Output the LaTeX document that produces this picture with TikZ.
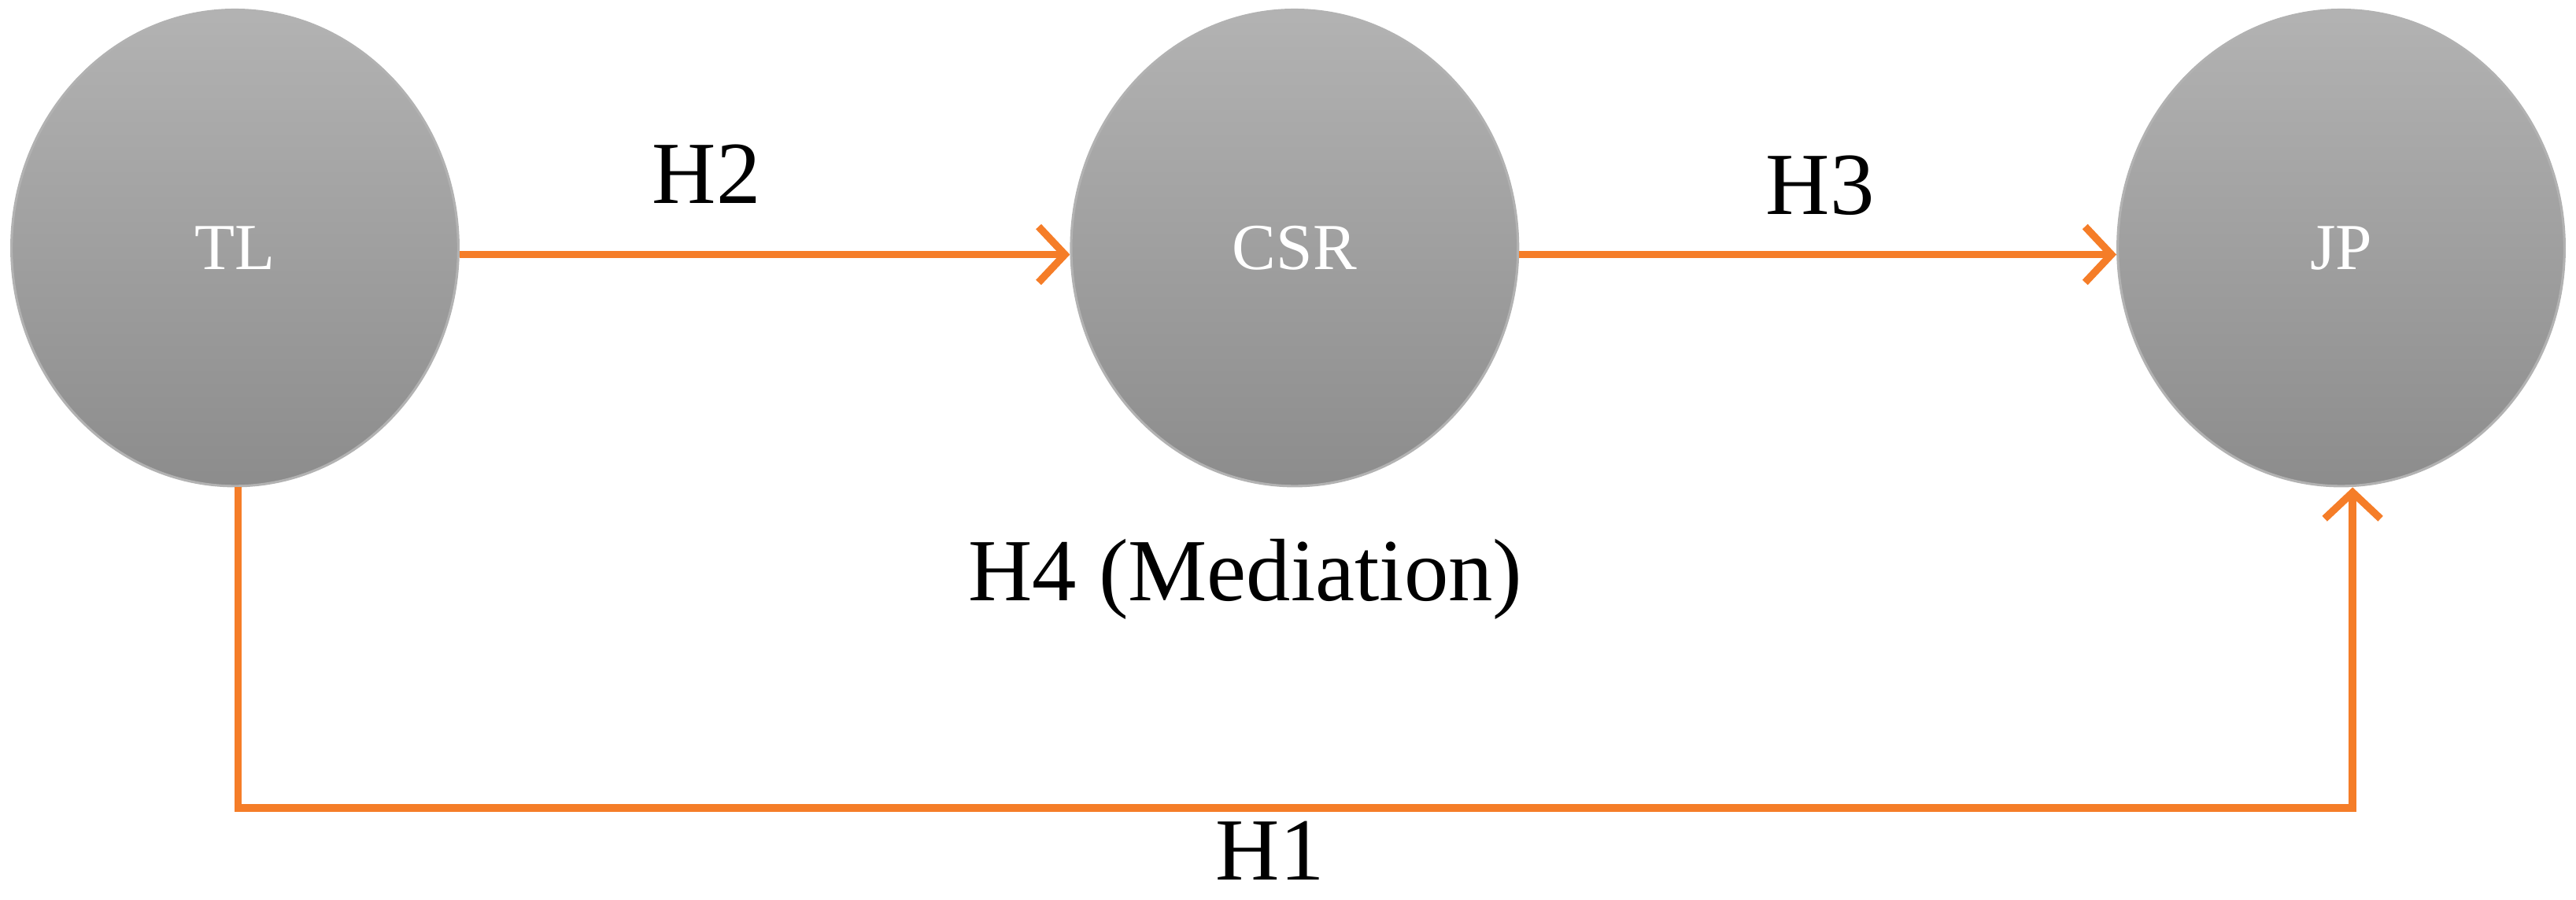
\documentclass[tikz,border=0pt]{standalone}
\usepackage{fontspec}
\setmainfont{Liberation Serif}
\usetikzlibrary{shapes.geometric,arrows.meta}
\begin{document}
\begin{tikzpicture}[x=1pt,y=-1pt,
  var/.style={ellipse,minimum width=272pt,minimum height=290pt,draw=gray!60,line width=1.5pt,
    top color=black!30,bottom color=black!45,text=white,font=\fontsize{40}{44}\selectfont},
  link/.style={color={rgb,255:red,245;green,125;blue,40},line width=4.5pt},
  arr/.style={link,-{Straight Barb[length=16pt,width=34pt,line width=4.5pt]}},
  lab/.style={font=\fontsize{54}{58}\selectfont}]
\useasboundingbox (0,0) rectangle (1568,548);
\node[var] (TL) at (143,151) {TL};
\node[var] (CSR) at (788,151) {CSR};
\node[var] (JP) at (1425,151) {JP};
\draw[arr] (TL.east |- 0,155) -- (CSR.west |- 0,155);
\draw[arr] (CSR.east |- 0,155) -- (JP.west |- 0,155);
\coordinate (c1) at (145,492);
\coordinate (c2) at (1432,492);
\draw[arr] (TL.south -| c1) -- (c1) -- (c2) -- (c2 |- JP.south);
\node[lab] (h2) at (430,106) {H2};
\node[lab] (h3) at (1108,113) {H3};
\node[lab] (h4) at (758,353) {H4 (Mediation)};
\node[lab] (h1) at (773,518) {H1};
\end{tikzpicture}
\end{document}
